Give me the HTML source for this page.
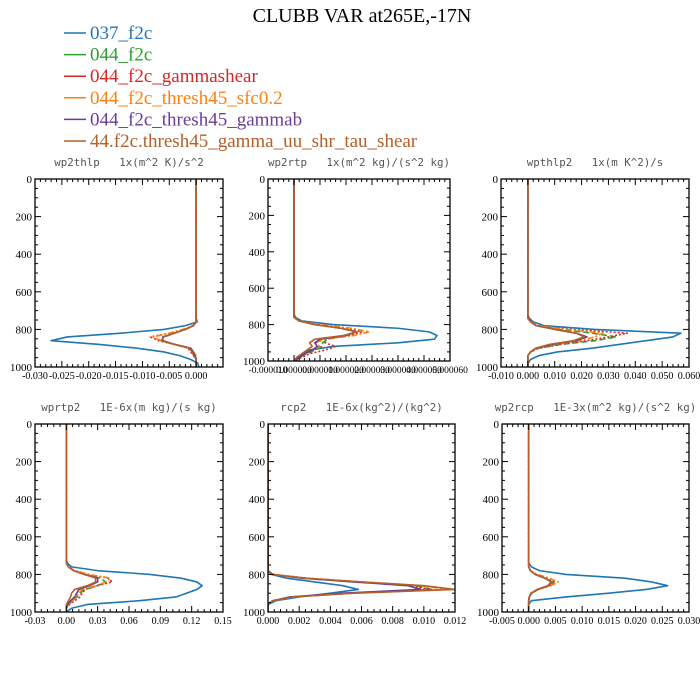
<!DOCTYPE html>
<html><head><meta charset="utf-8"><style>
html,body{margin:0;padding:0;background:#fff;}
svg{display:block;}
.pt{white-space:pre;}
</style></head><body>
<svg id="chart" width="700" height="700" viewBox="0 0 700 700" xmlns="http://www.w3.org/2000/svg">
<text x="362" y="22" text-anchor="middle" font-family="Liberation Serif, serif" font-size="20" fill="#000">CLUBB VAR at265E,-17N</text>
<g id="legend"></g>
<g id="panels"></g>
</svg>
<script>
const seriesNames = ["037_f2c","044_f2c","044_f2c_gammashear","044_f2c_thresh45_sfc0.2","044_f2c_thresh45_gammab","44.f2c.thresh45_gamma_uu_shr_tau_shear"];
const levels = [0,720,740,760,780,800,820,840,860,880,900,920,940,960,980,1000];
const yTicks = [0,200,400,600,800,1000];

const p1Title = "wp2thlp   1x(m^2 K)/s^2";
const p1XTicks = ["-0.030","-0.025","-0.020","-0.015","-0.010","-0.005","0.000"];
const p1Blue   = [0,0,0,0.0002,-0.002,-0.006,-0.014,-0.024,-0.027,-0.018,-0.011,-0.006,-0.003,-0.001,0.0003,0.0005];
const p1Green  = [0,0,0,0,-0.0005,-0.002,-0.004,-0.006,-0.0065,-0.004,-0.001,-0.0005,0,0,0,0];
const p1Red    = [0,0,0,0,-0.0005,-0.002,-0.005,-0.0085,-0.007,-0.004,-0.0015,-0.001,-0.0005,0,0,0];
const p1Orange = [0,0,0,0,-0.0006,-0.0025,-0.005,-0.008,-0.0065,-0.004,-0.001,-0.0005,0,0,0,0];
const p1Purple = [0,0,0,0,-0.0005,-0.002,-0.004,-0.0062,-0.0062,-0.004,-0.001,-0.0006,-0.0002,0,0,0];
const p1Brown  = [0,0,0,0,-0.0005,-0.002,-0.004,-0.006,-0.0065,-0.004,-0.0012,-0.0008,-0.0004,0,0,0];

const p2Title = "wp2rtp   1x(m^2 kg)/(s^2 kg)";
const p2XTicks = ["-0.000010","0.000000","0.000010","0.000020","0.000030","0.000040","0.000050","0.000060"];
const p2Blue   = [0,0,0,0.0000005,0.000003,0.000015,0.00004,0.000052,0.000055,0.000054,0.00004,0.000015,0.000006,0.000003,0.000002,0];
const p2Green  = [0,0,0,0,0.000002,0.000008,0.000018,0.000024,0.00002,0.000013,0.000011,0.000011,0.000008,0.000005,0.000002,0];
const p2Red    = [0,0,0,0,0.000002,0.000009,0.00002,0.000026,0.000021,0.000012,0.000012,0.000016,0.000012,0.000006,0.000003,0];
const p2Orange = [0,0,0,0,0.000002,0.00001,0.000022,0.000029,0.000023,0.000012,0.000008,0.00001,0.000007,0.000004,0.000002,0];
const p2Purple = [0,0,0,0,0.000002,0.000008,0.000018,0.000024,0.00002,0.00001,0.000008,0.000009,0.000007,0.000004,0.000002,0];
const p2Brown  = [0,0,0,0,0.000002,0.000008,0.000018,0.000024,0.000019,0.000008,0.000006,0.000007,0.000005,0.000003,0.000001,0];

const p3Title = "wpthlp2   1x(m K^2)/s";
const p3XTicks = ["-0.010","0.000","0.010","0.020","0.030","0.040","0.050","0.060"];
const p3Blue   = [0,0,0.0005,0.002,0.006,0.025,0.057,0.054,0.044,0.034,0.024,0.011,0.004,0.001,0,0];
const p3Green  = [0,0,0,0.001,0.003,0.012,0.024,0.033,0.025,0.012,0.004,0.001,0,0,0,0];
const p3Red    = [0,0,0,0.001,0.004,0.016,0.037,0.030,0.022,0.012,0.004,0.001,0,0,0,0];
const p3Orange = [0,0,0,0.001,0.004,0.014,0.028,0.025,0.019,0.010,0.003,0.001,0,0,0,0];
const p3Purple = [0,0,0,0.001,0.003,0.010,0.018,0.022,0.018,0.009,0.003,0.001,0,0,0,0];
const p3Brown  = [0,0,0,0.001,0.003,0.010,0.018,0.021,0.017,0.008,0.003,0.001,0,0,0,0];

const p4Title = "wprtp2   1E-6x(m kg)/(s kg)";
const p4XTicks = ["-0.03","0.00","0.03","0.06","0.09","0.12","0.15"];
const p4Blue   = [0,0,0.001,0.005,0.03,0.08,0.11,0.125,0.13,0.125,0.115,0.105,0.07,0.02,0.005,0];
const p4Green  = [0,0,0,0.002,0.007,0.018,0.032,0.038,0.03,0.018,0.013,0.010,0.006,0.002,0,0];
const p4Red    = [0,0,0,0.002,0.008,0.02,0.04,0.044,0.03,0.018,0.015,0.013,0.008,0.003,0,0];
const p4Orange = [0,0,0,0.002,0.008,0.022,0.042,0.038,0.028,0.015,0.012,0.010,0.006,0.002,0,0];
const p4Purple = [0,0,0,0.002,0.007,0.017,0.03,0.03,0.022,0.012,0.010,0.008,0.004,0.001,0,0];
const p4Brown  = [0,0,0,0.002,0.007,0.017,0.028,0.028,0.02,0.008,0.005,0.004,0.002,0,0,0];

const p5Title = "rcp2   1E-6x(kg^2)/(kg^2)";
const p5XTicks = ["0.000","0.002","0.004","0.006","0.008","0.010","0.012"];
const p5Blue   = [0,0,0,0,0,0.0002,0.0012,0.003,0.0048,0.0058,0.004,0.002,0.0005,0,0,0];
const p5Green  = [0,0,0,0,0,0.0003,0.0022,0.0055,0.0095,0.0105,0.005,0.0015,0.0003,0,0,0];
const p5Red    = [0,0,0,0,0,0.0003,0.0025,0.006,0.009,0.0105,0.005,0.0015,0.0003,0,0,0];
const p5Orange = [0,0,0,0,0,0.0003,0.0024,0.006,0.0098,0.0115,0.0055,0.0016,0.0003,0,0,0];
const p5Purple = [0,0,0,0,0,0.0003,0.0022,0.0055,0.009,0.0098,0.0048,0.0014,0.0003,0,0,0];
const p5Brown  = [0,0,0,0,0,0.0003,0.0024,0.006,0.01,0.012,0.0055,0.0016,0.0003,0,0,0];

const p6Title = "wp2rcp   1E-3x(m^2 kg)/(s^2 kg)";
const p6XTicks = ["-0.005","0.000","0.005","0.010","0.015","0.020","0.025","0.030"];
const p6Blue   = [0,0,0,0.0005,0.002,0.007,0.018,0.023,0.026,0.022,0.015,0.007,0.0005,0,0,0];
const p6Green  = [0,0,0,0,0.0003,0.0012,0.003,0.0045,0.0038,0.0018,0.0005,0.0001,0,0,0,0];
const p6Red    = [0,0,0,0,0.0003,0.0015,0.0035,0.005,0.004,0.0018,0.0005,0.0001,0,0,0,0];
const p6Orange = [0,0,0,0,0.0003,0.0016,0.0038,0.0055,0.0042,0.0018,0.0005,0.0001,0,0,0,0];
const p6Purple = [0,0,0,0,0.0003,0.0012,0.003,0.0042,0.0036,0.0016,0.0005,0.0001,0,0,0,0];
const p6Brown  = [0,0,0,0,0.0003,0.0012,0.003,0.0043,0.0037,0.0016,0.0004,0.0001,0,0,0,0];

const NS = "http://www.w3.org/2000/svg";
const colors = ["#1f77b4","#2ca02c","#d62728","#ff7f0e","#6a3d9a","#b5602a"];
const dashes = ["", "6,3", "2,2", "6,2,2,2", "", ""];
function mk(tag, attrs, parent){const e=document.createElementNS(NS,tag);for(const k in attrs)e.setAttribute(k,attrs[k]);parent.appendChild(e);return e;}

const leg = document.getElementById('legend');
seriesNames.forEach((n,i)=>{
  const y = 39 + i*21.6;
  const ln = mk('line',{x1:64,x2:86,y1:y-6,y2:y-6,stroke:colors[i],'stroke-width':1.5},leg);
  
  
  const t = mk('text',{x:90,y:y,'font-family':'Liberation Serif, serif','font-size':19,fill:colors[i]},leg);
  t.textContent = n;
  
  
});

const panels = [
 {title:p1Title, ticks:p1XTicks, xmin:-0.030, xmax:0.005, step:0.005, minor:5, box:[35,179,223,367], data:[p1Blue,p1Green,p1Red,p1Orange,p1Purple,p1Brown]},
 {title:p2Title, ticks:p2XTicks, xmin:-0.00001, xmax:0.00006, step:0.00001, minor:5, box:[268,179,450,361], data:[p2Blue,p2Green,p2Red,p2Orange,p2Purple,p2Brown]},
 {title:p3Title, ticks:p3XTicks, xmin:-0.010, xmax:0.060, step:0.010, minor:5, box:[501,179,689,367], data:[p3Blue,p3Green,p3Red,p3Orange,p3Purple,p3Brown]},
 {title:p4Title, ticks:p4XTicks, xmin:-0.03, xmax:0.15, step:0.03, minor:5, box:[35,424,223,612], data:[p4Blue,p4Green,p4Red,p4Orange,p4Purple,p4Brown]},
 {title:p5Title, ticks:p5XTicks, xmin:0, xmax:0.012, step:0.002, minor:5, box:[268,424,455,612], data:[p5Blue,p5Green,p5Red,p5Orange,p5Purple,p5Brown]},
 {title:p6Title, ticks:p6XTicks, xmin:-0.005, xmax:0.030, step:0.005, minor:5, box:[502,424,689,612], data:[p6Blue,p6Green,p6Red,p6Orange,p6Purple,p6Brown]}
];
const root = document.getElementById('panels');
panels.forEach((p,pi)=>{
  const [L,T,R,B] = p.box;
  const g = mk('g',{},root);
  
  
  const xs = v => L + (v - p.xmin)/(p.xmax-p.xmin)*(R-L);
  const ys = v => T + v/1000*(B-T);
  const tt = mk('text',{x:(L+R)/2,y:T-13,'text-anchor':'middle','font-family':'DejaVu Sans Mono, Liberation Mono, monospace','font-size':10.8,fill:'#555','class':'pt'},g);
  tt.textContent = p.title;
  
  
  const cid = 'clip'+pi;
  const cp = mk('clipPath',{id:cid},g); mk('rect',{x:L,y:T,width:R-L,height:B-T},cp);
  const sg = mk('g',{'clip-path':'url(#'+cid+')'},g);
  for (let s=0; s<p.data.length; s++){
    const arr = p.data[s];
    const d = arr.map((v,k)=>(k?'L':'M')+xs(v).toFixed(2)+','+ys(levels[k]).toFixed(2)).join(' ');
    const path = mk('path',{d:d,fill:'none',stroke:colors[s],'stroke-width':1.6,'stroke-linejoin':'round'},sg);
    if (dashes[s]) path.setAttribute('stroke-dasharray',dashes[s]);
    
    
  }
  const fr = mk('rect',{x:L,y:T,width:R-L,height:B-T,fill:'none',stroke:'#000','stroke-width':1.3},g);
  
  
  for (let v=0; v<=1000; v+=50){
    const y = ys(v), len = (v%200===0)?6:3;
    mk('line',{x1:L,x2:L+len,y1:y,y2:y,stroke:'#000','stroke-width':1},g);
    mk('line',{x1:R,x2:R-len,y1:y,y2:y,stroke:'#000','stroke-width':1},g);
  }
  yTicks.forEach(v=>{
    const t = mk('text',{x:L-3,y:ys(v)+4,'text-anchor':'end','font-family':'Liberation Serif, serif','font-size':11,fill:'#000'},g);
    t.textContent = v;
    
    
  });
  const nMaj = Math.round((p.xmax-p.xmin)/p.step);
  for (let k=0; k<=nMaj*p.minor; k++){
    const v = p.xmin + k*p.step/p.minor, x = xs(v), len = (k%p.minor===0)?6:3;
    mk('line',{x1:x,x2:x,y1:B,y2:B-len,stroke:'#000','stroke-width':1},g);
    mk('line',{x1:x,x2:x,y1:T,y2:T+len,stroke:'#000','stroke-width':1},g);
  }
  p.ticks.forEach((lab,k)=>{
    const t = mk('text',{x:xs(p.xmin+k*p.step),y:B+12,'text-anchor':'middle','font-family':'Liberation Serif, serif','font-size':pi===1?9.5:10,fill:'#000'},g);
    t.textContent = lab;
    
    
  });
});
</script>
</body></html>
